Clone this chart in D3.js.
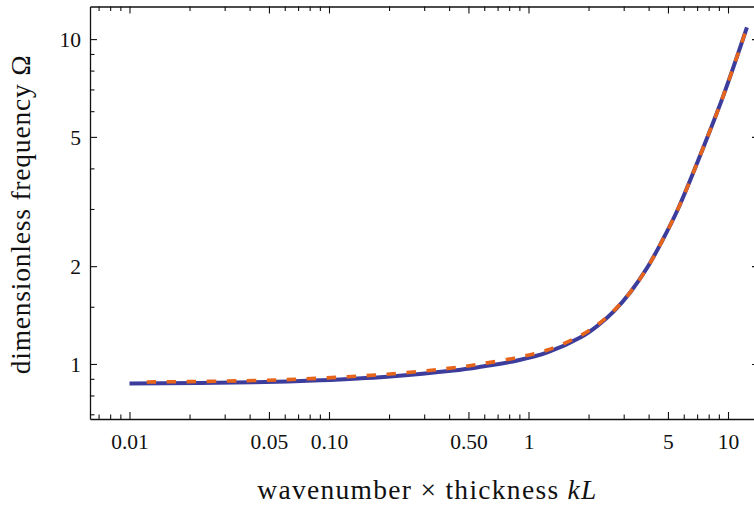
<!DOCTYPE html>
<html><head><meta charset="utf-8">
<script src="https://cdn.jsdelivr.net/npm/d3@7"></script>
<style>
body{margin:0;background:#fff;}
svg{display:block;}
text{font-family:"Liberation Serif","Times New Roman",serif;fill:#111;}
</style></head>
<body>
<script>
// Data
const exactKL = [0.01, 0.0418, 0.0904, 0.1955, 0.4207, 0.575, 0.879, 1.243, 1.826, 2.215, 2.684, 3.254, 3.948, 4.605, 5.585, 7.899, 9.57, 12.44];
const exactOmega = [0.870, 0.878, 0.891, 0.914, 0.954, 0.980, 1.025, 1.085, 1.208, 1.310, 1.455, 1.669, 1.984, 2.351, 2.978, 5.005, 6.806, 10.86];
const approxKL = [0.0122, 0.0418, 0.0904, 0.1955, 0.4207, 0.575, 0.879, 1.243, 1.826, 2.215, 2.684, 3.254, 3.948, 4.605, 5.585, 7.899, 9.57, 12.44];
const approxOmega = [0.880, 0.889, 0.904, 0.930, 0.973, 1.000, 1.047, 1.104, 1.223, 1.320, 1.461, 1.669, 1.984, 2.351, 2.978, 5.005, 6.806, 10.86];

const xMajor = [0.01, 0.05, 0.1, 0.5, 1, 5, 10];
const xMajorLabels = ["0.01", "0.05", "0.10", "0.50", "1", "5", "10"];
const xMinor = [0.007, 0.008, 0.009, 0.02, 0.03, 0.04, 0.06, 0.07, 0.08, 0.09, 0.2, 0.3, 0.4, 0.6, 0.7, 0.8, 0.9, 2, 3, 4, 6, 7, 8, 9];
const yMajor = [1, 2, 5, 10];
const yMajorLabels = ["1", "2", "5", "10"];
const yMinor = [0.7, 0.8, 0.9, 1.5, 3, 4, 6, 7, 8, 9];

const W = 754, H = 506;
const L = 90, R = 759, T = 6.5, B = 419;

const svg = d3.select("body").append("svg").attr("width", W).attr("height", H);

const x = d3.scaleLog().domain([0.00634, 14.3]).range([L, R]);
const y = d3.scaleLog().domain([0.677, 12.6]).range([B, T]);

// Curves
const line = d3.line().x(d => x(d[0])).y(d => y(d[1])).curve(d3.curveCatmullRom.alpha(0.5));
const exact = exactKL.map((k, i) => [k, exactOmega[i]]);
const approx = approxKL.map((k, i) => [k, approxOmega[i]]);

svg.append("path").datum(exact).attr("d", line)
  .attr("fill", "none").attr("stroke", "#3c3c9d").attr("stroke-width", 4);
svg.append("path").datum(approx).attr("d", line)
  .attr("fill", "none").attr("stroke", "#e7651b").attr("stroke-width", 3.6)
  .attr("stroke-dasharray", "9.5,10.5");

// Axes (ticks inward)
const majLen = 7, minLen = 4.5;
function axis(gen, scale, major, minor, labels, pos, showLabels) {
  const g = svg.append("g").attr("transform", pos);
  const a = gen(scale).tickValues(major).tickSizeInner(-majLen).tickSizeOuter(0)
    .tickFormat((d, i) => showLabels ? labels[i] : "").tickPadding(majLen + 8);
  g.call(a);
  const gm = svg.append("g").attr("transform", pos);
  gm.call(gen(scale).tickValues(minor).tickSizeInner(-minLen).tickSizeOuter(0).tickFormat(""));
  gm.select(".domain").remove();
  [g, gm].forEach(s => {
    s.selectAll(".tick line").attr("stroke", "#111").attr("stroke-width", 1.1);
  });
  g.select(".domain").attr("stroke", "#111").attr("stroke-width", 1.3);
  g.selectAll(".tick text").attr("font-family", "Liberation Serif").attr("font-size", 21.5).attr("fill", "#111");
  return g;
}
const gb = axis(d3.axisBottom, x, xMajor, xMinor, xMajorLabels, `translate(0,${B})`, true);
gb.selectAll(".tick text").attr("dy", null).attr("y", 30);
axis(d3.axisTop, x, xMajor, xMinor, xMajorLabels, `translate(0,${T})`, false);
const gl = axis(d3.axisLeft, y, yMajor, yMinor, yMajorLabels, `translate(${L},0)`, true);
gl.selectAll(".tick text").attr("x", -9).attr("dy", "0.34em");
axis(d3.axisRight, y, yMajor, yMinor, yMajorLabels, `translate(${R},0)`, false);

// Axis titles
function fitWidth(sel, target) {
  const n = sel.text().length;
  const w = sel.node().getComputedTextLength();
  sel.attr("letter-spacing", ((target - w) / (n - 1)).toFixed(2));
}
const xt = svg.append("text").attr("x", 427.5).attr("y", 499).attr("text-anchor", "middle")
  .attr("font-size", 27.5);
xt.append("tspan").text("wavenumber \u00d7 thickness ");
xt.append("tspan").attr("font-style", "italic").text("kL");
fitWidth(xt, 339);

const yt = svg.append("text").attr("transform", "translate(30,214.5) rotate(-90)")
  .attr("text-anchor", "middle").attr("font-size", 27.5);
yt.append("tspan").text("dimensionless frequency \u03a9");
fitWidth(yt, 319);
</script>
</body></html>
